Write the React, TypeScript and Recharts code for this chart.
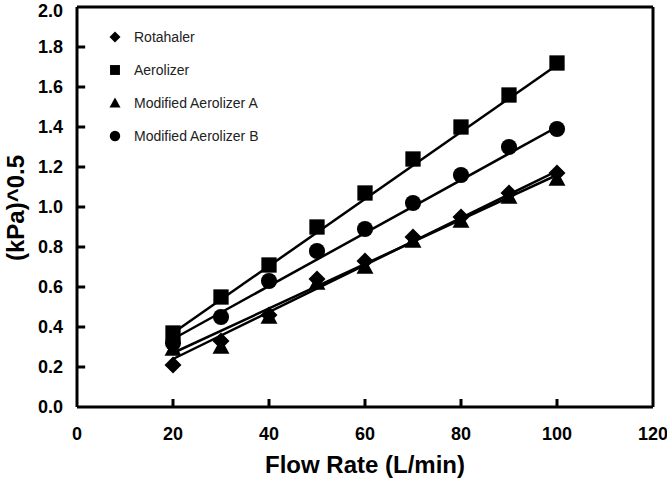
import React from "react";
import { ComposedChart, XAxis, YAxis, Scatter, Line, ReferenceLine } from "recharts";

// flow rates (L/min) and measured (kPa)^0.5 per device
const flowRates = [20, 30, 40, 50, 60, 70, 80, 90, 100];
const rotahaler = [0.21, 0.33, 0.46, 0.64, 0.73, 0.85, 0.95, 1.07, 1.17];
const aerolizer = [0.37, 0.55, 0.71, 0.9, 1.07, 1.24, 1.4, 1.56, 1.72];
const modifiedA = [0.29, 0.3, 0.45, 0.62, 0.7, 0.83, 0.93, 1.05, 1.14];
const modifiedB = [0.32, 0.45, 0.63, 0.78, 0.89, 1.02, 1.16, 1.3, 1.39];

// linear trend lines, read at both ends (20 and 100 L/min)
const trendX = [20, 100];
const rotahalerTrend = [0.24, 1.18];
const aerolizerTrend = [0.37, 1.71];
const modifiedATrend = [0.27, 1.16];
const modifiedBTrend = [0.34, 1.4];

const xTicks = [0, 20, 40, 60, 80, 100, 120];
const yTicks = [0, 0.2, 0.4, 0.6, 0.8, 1.0, 1.2, 1.4, 1.6, 1.8, 2.0];

type Kind = "diamond" | "square" | "triangle" | "circle";

const FONT = "'Liberation Sans', Arial, sans-serif";
// inward tick mark length in axis units (~8px)
const X_MARK_LEN = 0.04;
const Y_MARK_LEN = 1.7;

const toPoints = (xs: number[], ys: number[]) =>
  xs.map((x, i) => ({ x, y: ys[i] }));

const marker = (kind: Kind, cx: number, cy: number, r: number) => {
  switch (kind) {
    case "diamond":
      return (
        <polygon
          points={`${cx},${cy - r} ${cx + r},${cy} ${cx},${cy + r} ${cx - r},${cy}`}
          fill="#000"
        />
      );
    case "square":
      return <rect x={cx - r * 0.9} y={cy - r * 0.9} width={r * 1.8} height={r * 1.8} fill="#000" />;
    case "triangle":
      return (
        <polygon
          points={`${cx},${cy - r} ${cx + r},${cy + r * 0.8} ${cx - r},${cy + r * 0.8}`}
          fill="#000"
        />
      );
    default:
      return <circle cx={cx} cy={cy} r={r * 0.95} fill="#000" />;
  }
};

const shapeFor = (kind: Kind) => (props: any) => {
  if (props.cx == null || props.cy == null) return <g />;
  return marker(kind, props.cx, props.cy, 8.5);
};

const series: { name: string; kind: Kind; values: number[]; trend: number[] }[] = [
  { name: "Rotahaler", kind: "diamond", values: rotahaler, trend: rotahalerTrend },
  { name: "Aerolizer", kind: "square", values: aerolizer, trend: aerolizerTrend },
  { name: "Modified Aerolizer A", kind: "triangle", values: modifiedA, trend: modifiedATrend },
  { name: "Modified Aerolizer B", kind: "circle", values: modifiedB, trend: modifiedBTrend },
];

const tickFont = { fill: "#000", fontSize: 18, fontWeight: "bold" as const };
const axisStroke = { stroke: "#000", strokeWidth: 3 };

const LegendBox = () => (
  <div
    style={{
      position: "absolute",
      left: 108,
      top: 20,
      fontFamily: FONT,
      fontSize: 14,
      color: "#222",
    }}
  >
    {series.map((s) => (
      <div key={s.name} style={{ display: "flex", alignItems: "center", height: 33 }}>
        <svg width={14} height={14} style={{ marginRight: 12 }}>
          {marker(s.kind, 7, 7, 5.5)}
        </svg>
        <span>{s.name}</span>
      </div>
    ))}
  </div>
);

export default function App() {
  return (
    <div style={{ position: "absolute", left: 0, top: 0, width: 667, height: 478, background: "#fff" }}>
      <ComposedChart
        width={667}
        height={478}
        margin={{ top: 7, right: 14, left: 0, bottom: 0 }}
        style={{ fontFamily: FONT }}
      >
        <XAxis
          dataKey="x"
          type="number"
          domain={[0, 120]}
          ticks={xTicks}
          height={71}
          tickSize={0}
          tickMargin={20}
          axisLine={axisStroke}
          tickLine={false}
          tick={tickFont}
          label={{
            content: () => (
              <text x={365} y={473} textAnchor="middle" fontSize={24} fontWeight="bold" fill="#000">
                Flow Rate (L/min)
              </text>
            ),
          }}
        />
        <YAxis
          dataKey="y"
          type="number"
          domain={[0, 2]}
          ticks={yTicks}
          width={77}
          tickSize={0}
          tickMargin={14}
          axisLine={axisStroke}
          tickLine={false}
          tick={tickFont}
          tickFormatter={(v: number) => v.toFixed(1)}
          label={{
            content: () => (
              <text
                x={0}
                y={0}
                transform="translate(24, 208) rotate(-90)"
                textAnchor="middle"
                fontSize={24}
                fontWeight="bold"
                fill="#000"
              >
                (kPa)^0.5
              </text>
            ),
          }}
        />
        {/* top and right edges of the plot frame */}
        <ReferenceLine y={2} stroke="#000" strokeWidth={3} />
        <ReferenceLine x={120} stroke="#000" strokeWidth={3} />
        {/* inward tick marks */}
        {xTicks.slice(1, -1).map((t) => (
          <ReferenceLine
            key={`xm-${t}`}
            segment={[{ x: t, y: 0 }, { x: t, y: X_MARK_LEN }]}
            stroke="#000"
            strokeWidth={3}
          />
        ))}
        {yTicks.slice(1, -1).map((t) => (
          <ReferenceLine
            key={`ym-${t}`}
            segment={[{ x: 0, y: t }, { x: Y_MARK_LEN, y: t }]}
            stroke="#000"
            strokeWidth={3}
          />
        ))}
        {series.map((s) => (
          <Line
            key={`trend-${s.name}`}
            data={toPoints(trendX, s.trend)}
            dataKey="y"
            type="linear"
            stroke="#000"
            strokeWidth={2.5}
            dot={false}
            activeDot={false}
            legendType="none"
            isAnimationActive={false}
          />
        ))}
        {series.map((s) => (
          <Scatter
            key={s.name}
            name={s.name}
            data={toPoints(flowRates, s.values)}
            shape={shapeFor(s.kind)}
            isAnimationActive={false}
          />
        ))}
      </ComposedChart>
      <LegendBox />
    </div>
  );
}
